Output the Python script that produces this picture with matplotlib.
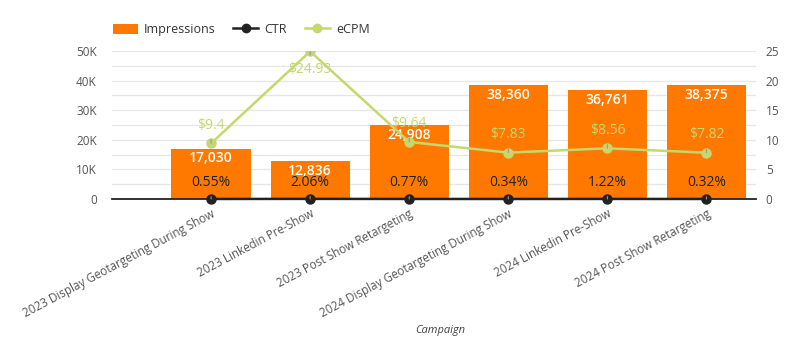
import matplotlib
matplotlib.use("Agg")
import matplotlib.pyplot as plt
from matplotlib.patches import Patch
from matplotlib.lines import Line2D
from matplotlib.ticker import FuncFormatter, MultipleLocator

plt.rcParams['font.family'] = ['Open Sans', 'DejaVu Sans']

campaigns = [
    "2023 Display Geotargeting During Show",
    "2023 Linkedin Pre-Show",
    "2023 Post Show Retargeting",
    "2024 Display Geotargeting During Show",
    "2024 Linkedin Pre-Show",
    "2024 Post Show Retargeting",
]
impressions = [17030, 12836, 24908, 38360, 36761, 38375]
ctr = [0.0055, 0.0206, 0.0077, 0.0034, 0.0122, 0.0032]
ecpm = [9.40, 24.93, 9.64, 7.83, 8.56, 7.82]

ORANGE = "#ff7800"
GREEN = "#c5d86d"
DARK = "#222222"
TICK = "#555555"

fig = plt.figure(figsize=(7.94, 3.40), dpi=100)
ax = fig.add_axes([112 / 794, 1 - 199 / 340, 644 / 794, 148 / 340])
ax2 = ax.twinx()

x = list(range(len(campaigns)))

# bars on the left axis
ax.bar(x, impressions, width=0.8, color=ORANGE, zorder=2)
ax.set_ylim(0, 50000)
ax.set_xlim(-1, 5.5)
ax.yaxis.set_major_locator(MultipleLocator(10000))
ax.yaxis.set_minor_locator(MultipleLocator(5000))
ax.yaxis.set_major_formatter(FuncFormatter(lambda v, p: "0" if v == 0 else f"{int(v / 1000)}K"))
ax.grid(axis="y", which="both", color="#e6e6e6", linewidth=0.9, zorder=0)
ax.set_axisbelow(True)
for s in ["top", "right", "left"]:
    ax.spines[s].set_visible(False)
ax.spines["bottom"].set_color(DARK)
ax.spines["bottom"].set_linewidth(1.3)
ax.spines["bottom"].set_zorder(3)
ax.tick_params(axis="y", which="both", length=0, labelsize=8.5, labelcolor=TICK, pad=11)
ax.tick_params(axis="x", length=0, labelsize=8.4, labelcolor=TICK, pad=6)
ax.set_xticks(x)
ax.set_xticklabels(campaigns, rotation=28, ha="right", rotation_mode="anchor")
ax.set_xlabel("Campaign", fontsize=8, color="#444444", style="italic", va="center")
ax.xaxis.set_label_coords(0.509, -0.89)

for xi, v in zip(x, impressions):
    ax.annotate(f"{v:,}", (xi, v), xytext=(0, -7), textcoords="offset points",
                ha="center", va="center", color="white", fontsize=10, fontweight="semibold", zorder=5)

# lines on the right axis
ax2.set_ylim(0, 25)
ax2.yaxis.set_major_locator(MultipleLocator(5))
for s in ["top", "right", "left", "bottom"]:
    ax2.spines[s].set_visible(False)
ax2.tick_params(axis="y", length=0, labelsize=8.5, labelcolor=TICK, pad=7)

ax2.plot(x, ecpm, color=GREEN, linewidth=1.8, marker="o", markersize=6.5, zorder=4)
ax2.plot(x, ctr, color=DARK, linewidth=1.8, marker="o", markersize=6.5, zorder=4, clip_on=False)

for xi, v in zip(x, ecpm):
    below = v > 20
    dy = -13 if below else 13
    ax2.annotate(f"${v:g}", (xi, v), xytext=(0, dy), textcoords="offset points",
                 ha="center", va="center", color=GREEN, fontsize=10,
                 arrowprops=dict(arrowstyle="-", color="#999999", lw=0.8, shrinkA=3, shrinkB=4),
                 zorder=6)

for xi, v in zip(x, ctr):
    ax2.annotate(f"{v * 100:.2f}%", (xi, v), xytext=(0, 12), textcoords="offset points",
                 ha="center", va="center", color=DARK, fontsize=10,
                 arrowprops=dict(arrowstyle="-", color="#999999", lw=0.8, shrinkA=3, shrinkB=4),
                 zorder=6)

handles = [
    Patch(facecolor=ORANGE, edgecolor="none"),
    Line2D([], [], color=DARK, linewidth=1.8, marker="o", markersize=6),
    Line2D([], [], color=GREEN, linewidth=1.8, marker="o", markersize=6),
]
fig.legend(handles, ["Impressions", "CTR", "eCPM"], loc="upper left",
           bbox_to_anchor=(0.128, 0.965), ncol=3, frameon=False, fontsize=9,
           handlelength=2.0, handleheight=0.9, columnspacing=1.4, handletextpad=0.5,
           labelcolor="#333333")

fig.savefig("out.png", dpi=100)
